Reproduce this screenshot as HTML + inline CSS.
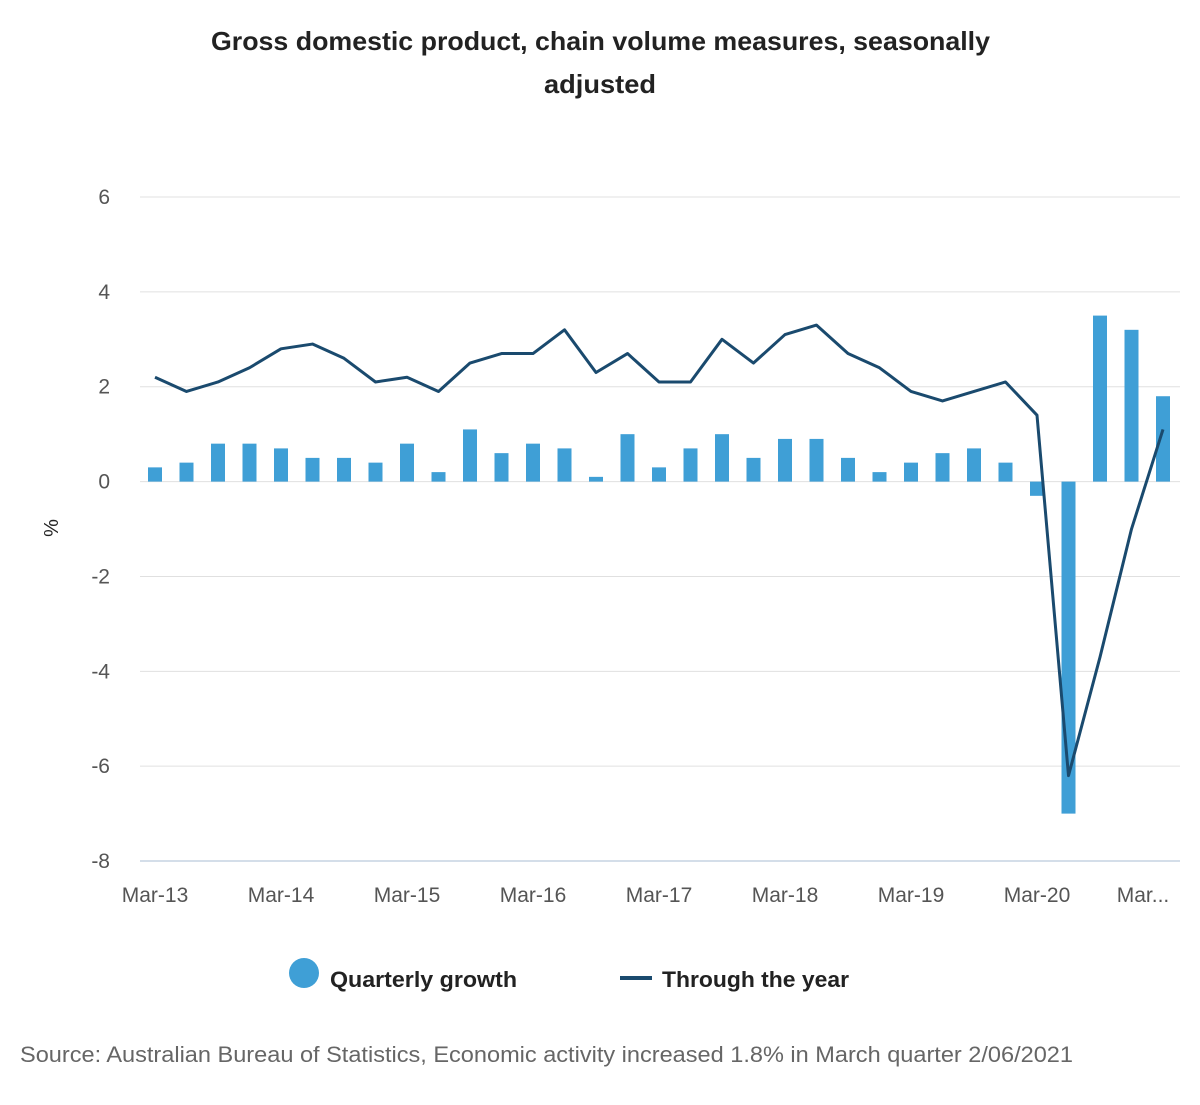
<!DOCTYPE html>
<html><head><meta charset="utf-8"><style>
body{margin:0;background:#fff;font-family:"Liberation Sans",sans-serif;}
svg text{font-family:"Liberation Sans",sans-serif;}
</style></head><body>
<svg id="chart" width="1200" height="1100" xmlns="http://www.w3.org/2000/svg">
<text x="211" y="50" font-size="26" font-weight="bold" fill="#222" textLength="779" lengthAdjust="spacingAndGlyphs">Gross domestic product, chain volume measures, seasonally</text>
<text x="544" y="93" font-size="26" font-weight="bold" fill="#222" textLength="112" lengthAdjust="spacingAndGlyphs">adjusted</text>
<text x="58" y="528" text-anchor="middle" font-size="20" fill="#222" transform="rotate(-90 58 528)">%</text>
<g id="grid"></g><g id="bars"></g><g id="line"></g><g id="xlabels"></g>
<g>
<circle cx="304" cy="973" r="15" fill="#3f9fd6"/>
<text x="330" y="987" font-size="22" font-weight="bold" fill="#222" textLength="187" lengthAdjust="spacingAndGlyphs">Quarterly growth</text>
<line x1="620" y1="978" x2="652" y2="978" stroke="#1a4a6e" stroke-width="4"/>
<text x="662" y="987" font-size="22" font-weight="bold" fill="#222" textLength="187" lengthAdjust="spacingAndGlyphs">Through the year</text>
</g>
<text x="20" y="1062" font-size="22" fill="#666" textLength="1053" lengthAdjust="spacingAndGlyphs">Source: Australian Bureau of Statistics, Economic activity increased 1.8% in March quarter 2/06/2021</text>
</svg>
<script>
const quarterlyGrowth=[0.3,0.4,0.8,0.8,0.7,0.5,0.5,0.4,0.8,0.2,1.1,0.6,0.8,0.7,0.1,1.0,0.3,0.7,1.0,0.5,0.9,0.9,0.5,0.2,0.4,0.6,0.7,0.4,-0.3,-7.0,3.5,3.2,1.8];
const throughYear=[2.2,1.9,2.1,2.4,2.8,2.9,2.6,2.1,2.2,1.9,2.5,2.7,2.7,3.2,2.3,2.7,2.1,2.1,3.0,2.5,3.1,3.3,2.7,2.4,1.9,1.7,1.9,2.1,1.4,-6.2,-3.7,-1.0,1.1];
const yTicks=[6,4,2,0,-2,-4,-6,-8];
const xLabels=["Mar-13","Mar-14","Mar-15","Mar-16","Mar-17","Mar-18","Mar-19","Mar-20","Mar..."];
const NS="http://www.w3.org/2000/svg";
const y=v=>481.6-v*47.43;
const x=i=>155+i*31.5;
function mk(tag,attrs,parent){const e=document.createElementNS(NS,tag);for(const k in attrs)e.setAttribute(k,attrs[k]);document.getElementById(parent).appendChild(e);return e;}
yTicks.forEach(t=>{
  const l=mk('line',{x1:140,x2:1180,y1:y(t),y2:y(t),stroke:t===-8?'#c5d3e2':'#e0e0e0','stroke-width':t===-8?1.5:1},'grid');
  
  
  const tx=mk('text',{x:110,y:y(t)+7,'text-anchor':'end','font-size':21,fill:'#555'},'grid');
  tx.textContent=t;
  
  
});
quarterlyGrowth.forEach((v,i)=>{
  const top=Math.min(y(v),y(0)),h=Math.abs(y(v)-y(0));
  const r=mk('rect',{x:x(i)-7,y:top,width:14,height:h,fill:'#3f9fd6'},'bars');
  
  
});
const p=mk('polyline',{points:throughYear.map((v,i)=>x(i)+','+y(v)).join(' '),fill:'none',stroke:'#1a4a6e','stroke-width':3,'stroke-linejoin':'round'},'line');


xLabels.forEach((s,k)=>{
  const i=k*4;
  const t=mk('text',{x:k===8?x(i)-20:x(i),y:902,'text-anchor':'middle','font-size':21,fill:'#555'},'xlabels');
  t.textContent=s;
  
  
});
</script>
</body></html>
